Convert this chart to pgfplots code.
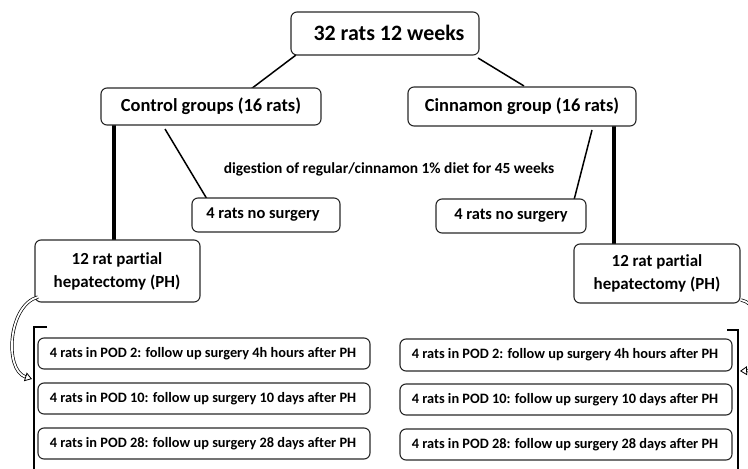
\documentclass[border=0pt]{standalone}
\usepackage{pgfplots}
\pgfplotsset{compat=1.18}
\usepackage{fontspec}
\setmainfont{Carlito}[Ligatures=NoCommon]
\usetikzlibrary{arrows.meta}
\definecolor{bd}{RGB}{40,40,40}
\begin{document}
\begin{tikzpicture}
\begin{axis}[scale only axis, width=748bp, height=469bp,
  xmin=0, xmax=748, ymin=0, ymax=469, y dir=reverse,
  hide axis, clip=false]
\coordinate (ll) at (axis cs:0,469);
\coordinate (ur) at (axis cs:748,0);
% connector lines
\draw[line width=1.5bp, black] (axis cs:296,55) -- (axis cs:247,92);
\draw[line width=1.5bp, black] (axis cs:478,58) -- (axis cs:524,86);
\draw[line width=1.5bp, black] (axis cs:165,129) -- (axis cs:207,199);
\draw[line width=1.5bp, black] (axis cs:592,130) -- (axis cs:574,200);
\draw[line width=3.2bp, black] (axis cs:114,125) -- (axis cs:114,241);
\draw[line width=3.2bp, black] (axis cs:614,126) -- (axis cs:614,244);
% boxes
\tikzset{bx/.style={draw=bd, line width=1.1bp, rounded corners=6bp, fill=white}}
\draw[bx] (axis cs:291,12) rectangle (axis cs:479,55);
\draw[bx] (axis cs:101,88) rectangle (axis cs:321,125);
\draw[bx] (axis cs:408,87) rectangle (axis cs:636,126);
\draw[bx] (axis cs:192,198) rectangle (axis cs:340,232);
\draw[bx] (axis cs:436,199) rectangle (axis cs:586,233);
\draw[bx] (axis cs:35,240) rectangle (axis cs:200,302);
\draw[bx] (axis cs:574,244) rectangle (axis cs:740,303);
\draw[bx] (axis cs:38,338) rectangle (axis cs:370,369);
\draw[bx] (axis cs:38,383) rectangle (axis cs:370,414);
\draw[bx] (axis cs:38,428) rectangle (axis cs:370,459);
\draw[bx] (axis cs:400,339) rectangle (axis cs:732,371);
\draw[bx] (axis cs:400,384) rectangle (axis cs:732,415);
\draw[bx] (axis cs:400,429) rectangle (axis cs:732,460);
% brackets
\draw[line width=1.3bp, black] (axis cs:47,327) -- (axis cs:34,327) -- (axis cs:34,469);
\draw[line width=1.3bp, black] (axis cs:727,330) -- (axis cs:738,330) -- (axis cs:738,469);
% curved arrows
\draw[line width=0.7bp, double=white, double distance=1.8bp, -{Triangle[open,length=7bp,width=9bp,line width=0.8bp]}]
  (axis cs:38,297) .. controls (axis cs:8,305) and (axis cs:4,370) .. (axis cs:32,379);
\draw[line width=0.7bp, double=white, double distance=1.8bp, -{Triangle[open,length=7bp,width=9bp,line width=0.8bp]}]
  (axis cs:741,300) .. controls (axis cs:768,305) and (axis cs:768,370) .. (axis cs:740,371);
% texts
\node[font=\bfseries\fontsize{22}{24}\selectfont] at (axis cs:389,33) {32 rats 12 weeks};
\node[font=\bfseries\fontsize{18.5}{20}\selectfont] at (axis cs:211,106) {Control groups (16 rats)};
\node[font=\bfseries\fontsize{18.5}{20}\selectfont] at (axis cs:522,106) {Cinnamon group (16 rats)};
\node[font=\bfseries\fontsize{15.5}{17}\selectfont] at (axis cs:389,169) {digestion of regular/cinnamon 1\% diet for 45 weeks};
\node[font=\bfseries\fontsize{16.5}{18}\selectfont] at (axis cs:263,215) {4 rats no surgery};
\node[font=\bfseries\fontsize{16.5}{18}\selectfont] at (axis cs:511,216) {4 rats no surgery};
\node[font=\bfseries\fontsize{17}{23}\selectfont, align=center] at (axis cs:117,271) {12 rat partial\\hepatectomy (PH)};
\node[font=\bfseries\fontsize{17}{23}\selectfont, align=center] at (axis cs:657,273) {12 rat partial\\hepatectomy (PH)};
\tikzset{ft/.style={font=\bfseries\fontsize{14.4}{16}\selectfont}}
\node[ft] at (axis cs:203,354) {4 rats in POD 2: follow up surgery 4h hours after PH};
\node[ft] at (axis cs:203,399) {4 rats in POD 10: follow up surgery 10 days after PH};
\node[ft] at (axis cs:203,444) {4 rats in POD 28: follow up surgery 28 days after PH};
\node[ft] at (axis cs:565,355) {4 rats in POD 2: follow up surgery 4h hours after PH};
\node[ft] at (axis cs:565,400) {4 rats in POD 10: follow up surgery 10 days after PH};
\node[ft] at (axis cs:565,445) {4 rats in POD 28: follow up surgery 28 days after PH};
\end{axis}
\pgfresetboundingbox
\path (ll) rectangle (ur);
\end{tikzpicture}
\end{document}
